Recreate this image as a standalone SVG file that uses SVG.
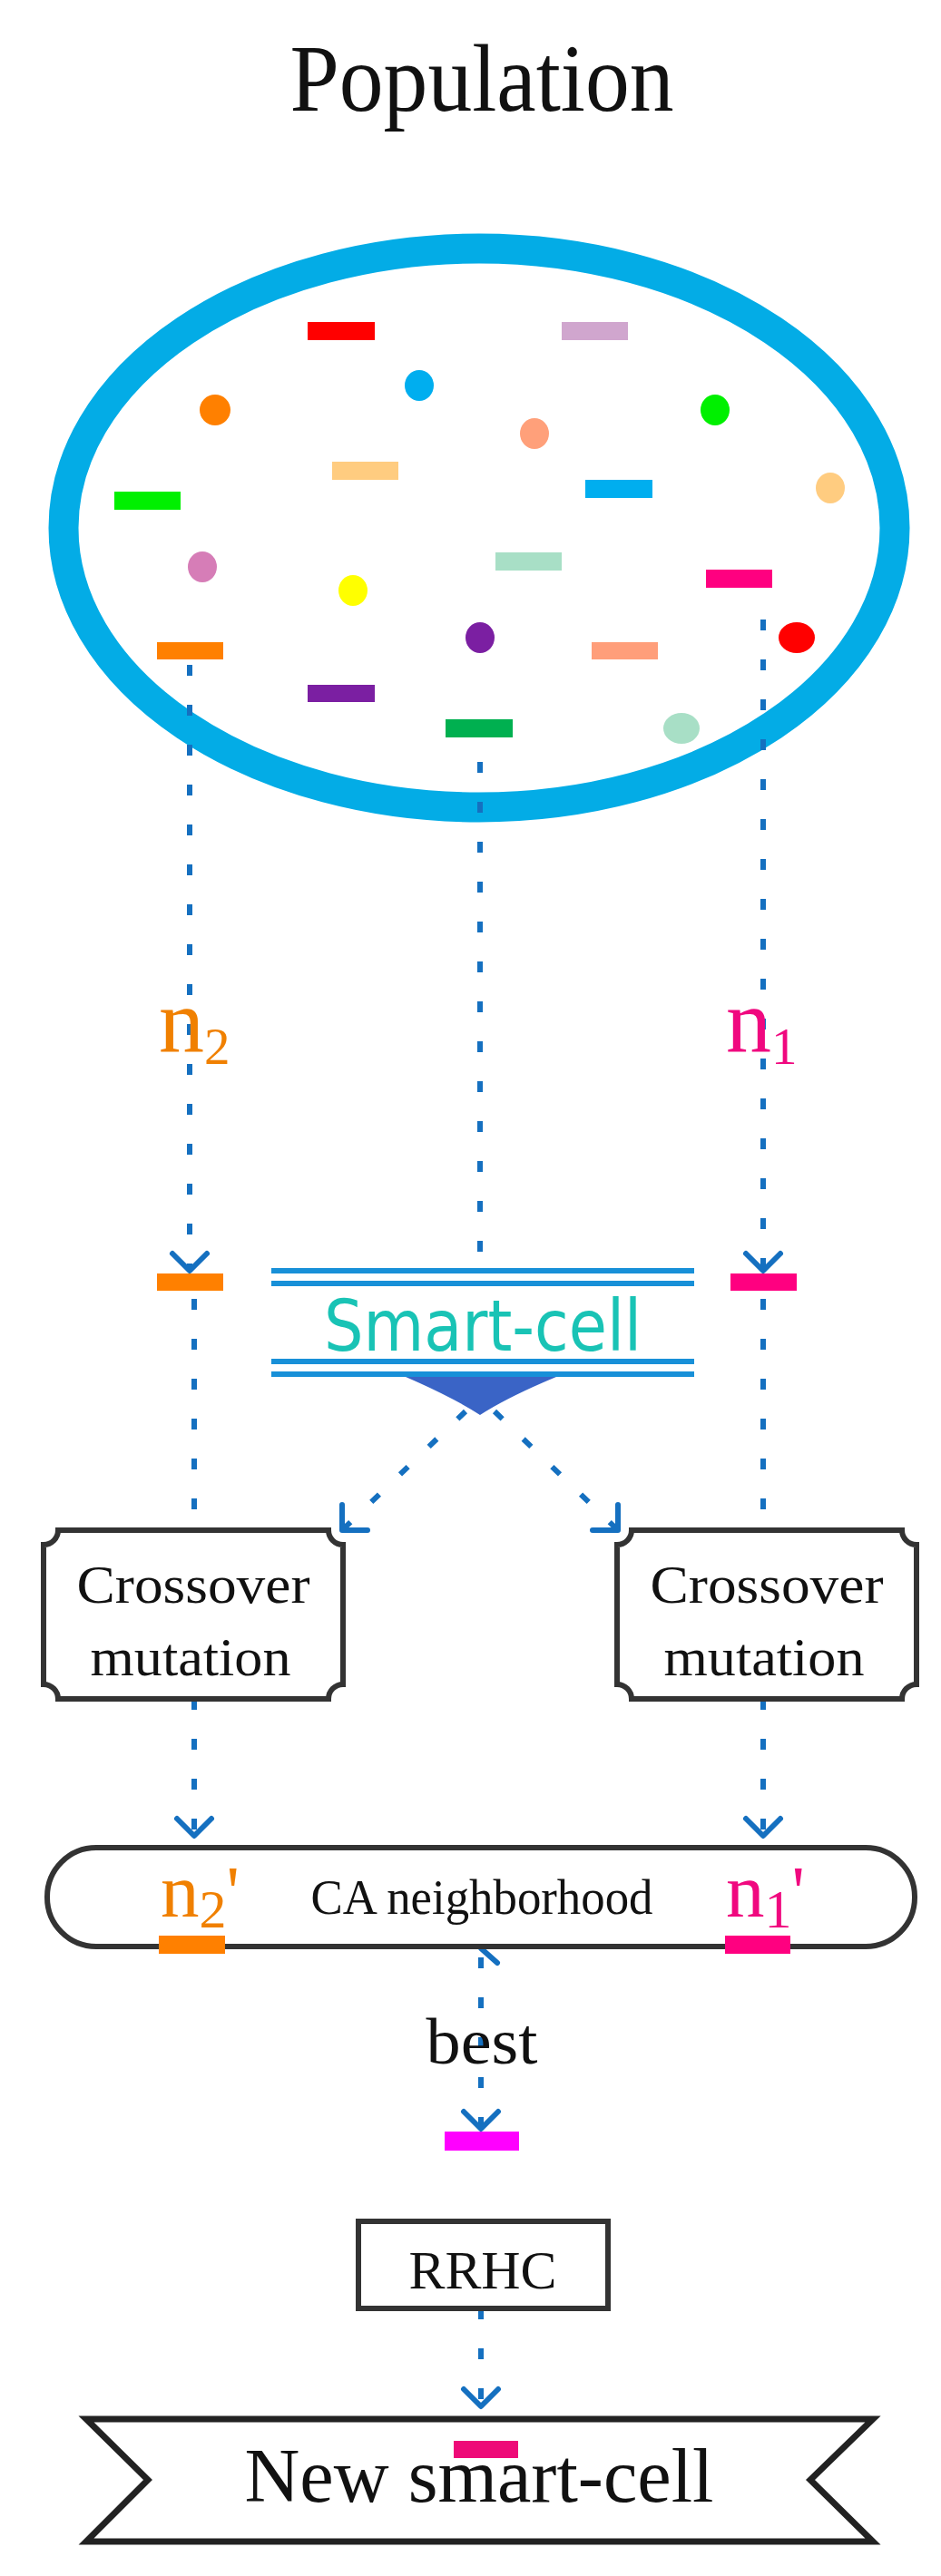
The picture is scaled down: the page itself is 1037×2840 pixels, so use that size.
<svg xmlns="http://www.w3.org/2000/svg" width="1037" height="2840" viewBox="0 0 1037 2840">
<defs>
<style>
.serif{font-family:"Liberation Serif","Times New Roman",serif;fill:#111}
.dash{stroke:#1570C0;stroke-width:6;fill:none;stroke-dasharray:12 32}
.head{stroke:#1570C0;stroke-width:6;fill:none;stroke-linecap:round;stroke-linejoin:round}
.box{fill:#fff;stroke:#333;stroke-width:6}
</style>
</defs>
<rect width="1037" height="2840" fill="#fff"/>
<text class="serif" x="531" y="122" font-size="105" text-anchor="middle" textLength="423" lengthAdjust="spacingAndGlyphs">Population</text>

<g id="population">
<ellipse cx="528" cy="582" rx="458" ry="308" fill="none" stroke="#03ACE6" stroke-width="33"/>
<rect x="339" y="355" width="74" height="20" fill="#FF0000"/>
<rect x="619" y="355" width="73" height="20" fill="#D0A6CE"/>
<ellipse cx="462" cy="425" rx="16" ry="17" fill="#00AEEF"/>
<ellipse cx="237" cy="452" rx="17" ry="17" fill="#FF8000"/>
<ellipse cx="589" cy="478" rx="16" ry="17" fill="#FFA07A"/>
<ellipse cx="788" cy="452" rx="16" ry="17" fill="#00F000"/>
<rect x="366" y="509" width="73" height="20" fill="#FFCC80"/>
<rect x="645" y="529" width="74" height="20" fill="#00AEEF"/>
<ellipse cx="915" cy="538" rx="16" ry="17" fill="#FFCC80"/>
<rect x="126" y="542" width="73" height="20" fill="#00F000"/>
<ellipse cx="223" cy="625" rx="16" ry="17" fill="#D67DB7"/>
<rect x="546" y="609" width="73" height="20" fill="#A8DFC6"/>
<rect x="778" y="628" width="73" height="20" fill="#FF0080"/>
<ellipse cx="389" cy="651" rx="16" ry="17" fill="#FFFF00"/>
<ellipse cx="529" cy="703" rx="16" ry="17" fill="#7B1FA2"/>
<ellipse cx="878" cy="703" rx="20" ry="17" fill="#FF0000"/>
<rect x="173" y="708" width="73" height="19" fill="#FF8000"/>
<rect x="652" y="708" width="73" height="19" fill="#FF9E7A"/>
<rect x="339" y="755" width="74" height="19" fill="#7B1FA2"/>
<rect x="491" y="793" width="74" height="20" fill="#00B050"/>
<ellipse cx="751" cy="803" rx="20" ry="17" fill="#A8DFC6"/>
</g>

<g id="connectors">
<line class="dash" x1="209" y1="733" x2="209" y2="1401"/>
<line class="dash" x1="841" y1="683" x2="841" y2="1401"/>
<line class="dash" x1="529" y1="840" x2="529" y2="1398"/>
<polyline class="head" points="190,1382 209,1401 228,1382"/>
<polyline class="head" points="822,1382 841,1401 860,1382"/>
<line class="dash" x1="214" y1="1432" x2="214" y2="1687"/>
<line class="dash" x1="841" y1="1432" x2="841" y2="1687"/>
<line class="dash" x1="513" y1="1556" x2="377" y2="1687"/>
<polyline class="head" points="377,1659 377,1687 405,1687"/>
<line class="dash" x1="545" y1="1556" x2="681" y2="1687"/>
<polyline class="head" points="681,1659 681,1687 653,1687"/>
<line class="dash" x1="214" y1="1873" x2="214" y2="2024"/>
<line class="dash" x1="841" y1="1873" x2="841" y2="2024"/>
<polyline class="head" points="195,2005 214,2024 233,2005"/>
<polyline class="head" points="822,2005 841,2024 860,2005"/>
<line class="dash" x1="530" y1="2158" x2="530" y2="2346"/>
<polyline class="head" points="548,2134 530,2148 548,2164"/>
<polyline class="head" points="511,2328 530,2347 549,2328"/>
<line class="dash" x1="530" y1="2545" x2="530" y2="2653"/>
<polyline class="head" points="511,2634 530,2653 549,2634"/>
</g>

<g id="n2">
<text x="175" y="1159" font-family="Liberation Serif,serif" font-size="100" fill="#F08000">n<tspan font-size="57" dy="14">2</tspan></text>
<rect x="173" y="1404" width="73" height="19" fill="#FF8000"/>
</g>
<g id="n1">
<text x="800" y="1159" font-family="Liberation Serif,serif" font-size="100" fill="#F0087F">n<tspan font-size="57" dy="14">1</tspan></text>
<rect x="805" y="1404" width="73" height="19" fill="#FF0080"/>
</g>

<g id="smart-cell">
<g stroke="#1890D8" stroke-width="6">
<line x1="299" y1="1401" x2="765" y2="1401"/>
<line x1="299" y1="1415" x2="765" y2="1415"/>
<line x1="299" y1="1501" x2="765" y2="1501"/>
<line x1="299" y1="1515" x2="765" y2="1515"/>
</g>
<text x="532" y="1489" font-family="DejaVu Sans,sans-serif" font-size="78" fill="#19C3B5" text-anchor="middle" textLength="350" lengthAdjust="spacingAndGlyphs">Smart-cell</text>
<path d="M447,1518 H613 Q560,1540 529,1560 Q498,1540 447,1518 Z" fill="#3A64C6"/>
</g>

<g id="crossover-left">
<path class="box" d="M64,1687 H362 A16 16 0 0 0 378,1703 V1857 A16 16 0 0 0 362,1873 H64 A16 16 0 0 0 48,1857 V1703 A16 16 0 0 0 64,1687 Z"/>
<text class="serif" x="213" y="1767" font-size="60" text-anchor="middle" textLength="257" lengthAdjust="spacingAndGlyphs">Crossover</text>
<text class="serif" x="210" y="1847" font-size="60" text-anchor="middle" textLength="221" lengthAdjust="spacingAndGlyphs">mutation</text>
</g>
<g id="crossover-right">
<path class="box" d="M696,1687 H994 A16 16 0 0 0 1010,1703 V1857 A16 16 0 0 0 994,1873 H696 A16 16 0 0 0 680,1857 V1703 A16 16 0 0 0 696,1687 Z"/>
<text class="serif" x="845" y="1767" font-size="60" text-anchor="middle" textLength="257" lengthAdjust="spacingAndGlyphs">Crossover</text>
<text class="serif" x="842" y="1847" font-size="60" text-anchor="middle" textLength="221" lengthAdjust="spacingAndGlyphs">mutation</text>
</g>

<g id="ca-neighborhood">
<rect class="box" x="52" y="2037" width="956" height="109" rx="54" ry="54"/>
<text class="serif" x="531" y="2110" font-size="55" text-anchor="middle" textLength="377" lengthAdjust="spacingAndGlyphs">CA neighborhood</text>
<text x="177" y="2113" font-family="Liberation Serif,serif" font-size="85" fill="#F08000">n<tspan font-size="60" dy="12">2</tspan><tspan font-size="80" dy="-12">'</tspan></text>
<rect x="175" y="2134" width="73" height="20" fill="#FF8000"/>
<text x="800" y="2113" font-family="Liberation Serif,serif" font-size="85" fill="#F0087F">n<tspan font-size="60" dy="12">1</tspan><tspan font-size="80" dy="-12">'</tspan></text>
<rect x="799" y="2134" width="72" height="20" fill="#FF0080"/>
</g>

<text class="serif" x="531" y="2275" font-size="72" text-anchor="middle" textLength="123" lengthAdjust="spacingAndGlyphs">best</text>
<g id="best">
<rect x="490" y="2350" width="82" height="21" fill="#FF00FF"/>
</g>

<g id="rrhc">
<rect class="box" x="395" y="2449" width="275" height="96"/>
<text class="serif" x="532" y="2523" font-size="60" text-anchor="middle" textLength="163" lengthAdjust="spacingAndGlyphs">RRHC</text>
</g>

<g id="new-smart-cell">
<path d="M95,2667 H962 L893,2734 L962,2802 H95 L163,2734 Z" fill="#fff" stroke="#222" stroke-width="7" stroke-linejoin="miter"/>
<rect x="500" y="2691" width="71" height="19" fill="#EE0A78"/>
<text class="serif" x="528" y="2758" font-size="85" text-anchor="middle" textLength="517" lengthAdjust="spacingAndGlyphs">New smart-cell</text>
</g>
</svg>
